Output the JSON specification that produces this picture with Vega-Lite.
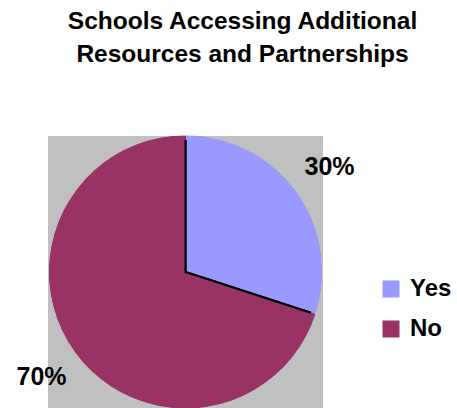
{
  "$schema": "https://vega.github.io/schema/vega-lite/v6.json",
  "width": 275,
  "height": 272,
  "autosize": {"type": "none"},
  "padding": {"left": 48, "top": 136, "right": 134, "bottom": 0},
  "background": "white",
  "title": {
    "text": ["Schools Accessing Additional", "Resources and Partnerships"],
    "font": "Liberation Sans",
    "fontSize": 24.5,
    "fontWeight": "bold",
    "lineHeight": 33,
    "color": "black",
    "anchor": "middle",
    "dx": 57,
    "offset": 66
  },
  "data": {
    "values": [
      {"category": "Yes", "value": 30, "label": "30%"},
      {"category": "No", "value": 70, "label": "70%"}
    ]
  },
  "layer": [
    {
      "mark": {"type": "rect", "color": "#c0c0c0"},
      "encoding": {}
    },
    {
      "mark": {"type": "arc", "outerRadius": 135, "stroke": "black", "strokeWidth": 2},
      "encoding": {
        "theta": {"field": "value", "type": "quantitative", "stack": true},
        "order": {"field": "category", "sort": "descending"},
        "color": {
          "field": "category",
          "type": "nominal",
          "scale": {"domain": ["Yes", "No"], "range": ["#9999FF", "#993366"]},
          "legend": {
            "orient": "none",
            "legendX": 331,
            "legendY": 141,
            "title": null,
            "symbolType": "square",
            "symbolSize": 289,
            "symbolStrokeWidth": 0,
            "symbolOpacity": 1,
            "labelFont": "Liberation Sans",
            "labelFontSize": 24,
            "labelFontWeight": "bold",
            "labelColor": "black",
            "labelOffset": 7,
            "rowPadding": 16
          }
        }
      }
    },
    {
      "mark": {"type": "arc", "outerRadius": 136.5, "innerRadius": 132},
      "encoding": {
        "theta": {"field": "value", "type": "quantitative", "stack": true},
        "order": {"field": "category", "sort": "descending"},
        "color": {"field": "category", "type": "nominal", "legend": null}
      }
    },
    {
      "mark": {"type": "text", "radius": 178, "font": "Liberation Sans", "fontSize": 25, "fontWeight": "bold", "color": "black"},
      "encoding": {
        "theta": {"field": "value", "type": "quantitative", "stack": true},
        "order": {"field": "category", "sort": "descending"},
        "text": {"field": "label", "type": "nominal"}
      }
    }
  ],
  "config": {"view": {"stroke": null}}
}
